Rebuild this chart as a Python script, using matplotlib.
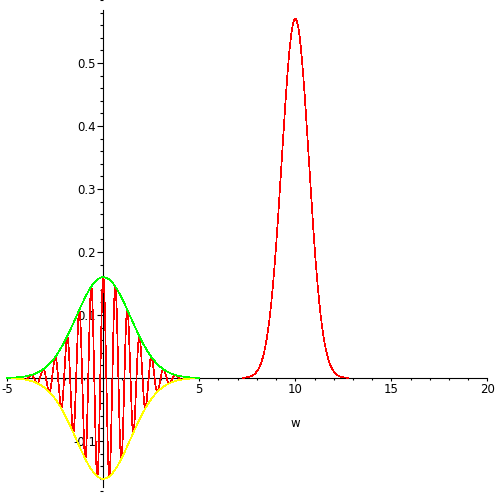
import numpy as np
import matplotlib
matplotlib.use("Agg")
import matplotlib.pyplot as plt
from matplotlib.ticker import MultipleLocator, FixedLocator

# ---- data ----
t_range = [-5.0, 5.0]          # domain of signal curves
w_range = [7.25, 12.75]        # visible domain of the spectrum curve
envelope_amp = 0.16            # peak of green / yellow envelope
envelope_scale = 2.0           # exp(-(t/scale)^2)
carrier_freq = 10.0            # cos(freq * t)
spectrum_amp = 0.57            # peak of spectrum
spectrum_center = 10.0
spectrum_width = 1.0           # exp(-((w-c)/width)^2)
x_major_ticks = [-5, 5, 10, 15, 20]
x_tick_labels = ["-5", "5", "10", "15", "20"]
y_major_ticks = [-0.1, 0.1, 0.2, 0.3, 0.4, 0.5]
y_tick_labels = ["-0.1", "0.1", "0.2", "0.3", "0.4", "0.5"]
x_label = "w"

plt.rcParams['font.family'] = ['DejaVu Sans']

fig = plt.figure(figsize=(4.97, 4.97), dpi=100)
ax = fig.add_axes([0, 0, 1, 1])
ax.set_xlim(-5.38, 20.505)
ax.set_ylim(-0.1889, 0.6)
ax.patch.set_alpha(0)

t = np.linspace(t_range[0], t_range[1], 4001)
env = envelope_amp * np.exp(-(t / envelope_scale) ** 2)
sig = env * np.cos(carrier_freq * t)
w = np.linspace(w_range[0], w_range[1], 800)
spec = spectrum_amp * np.exp(-((w - spectrum_center) / spectrum_width) ** 2)

lw = 0.5
ax.plot(t, sig, color=(1, 0, 0), lw=lw, antialiased=False, zorder=3)
ax.plot(t, -env, color=(1, 1, 0), lw=lw, antialiased=False, zorder=4)
ax.plot(t, env, color=(0, 1, 0), lw=lw, antialiased=False, zorder=4)
ax.plot(w, spec, color=(1, 0, 0), lw=lw, antialiased=False, zorder=3)

# axes through origin
for s in ['top', 'right']:
    ax.spines[s].set_visible(False)
ax.spines['left'].set_position(('data', 0))
ax.spines['bottom'].set_position(('data', 0))
ax.spines['left'].set_bounds(-0.173, 0.584)
ax.spines['bottom'].set_bounds(-5, 20)
for s in ['left', 'bottom']:
    ax.spines[s].set_linewidth(0.8)
    ax.spines[s].set_zorder(2)

ax.xaxis.set_major_locator(FixedLocator(x_major_ticks))
ax.set_xticklabels(x_tick_labels)
ax.xaxis.set_minor_locator(MultipleLocator(1))
ax.yaxis.set_major_locator(FixedLocator(y_major_ticks))
ax.set_yticklabels(y_tick_labels)
ax.yaxis.set_minor_locator(MultipleLocator(0.02))

ax.tick_params(axis='x', which='major', direction='out', length=2.3, width=0.8,
               pad=1.0, labelsize=8.5)
ax.tick_params(axis='x', which='minor', direction='out', length=1.2, width=0.8)
ax.tick_params(axis='y', which='major', direction='out', length=4.4, width=0.8,
               pad=0.8, labelsize=8.5)
ax.tick_params(axis='y', which='minor', direction='out', length=2.3, width=0.8)

ax.text(10, -0.073, x_label, ha='center', va='center', fontsize=8.5)

fig.savefig("out.png", dpi=100)
